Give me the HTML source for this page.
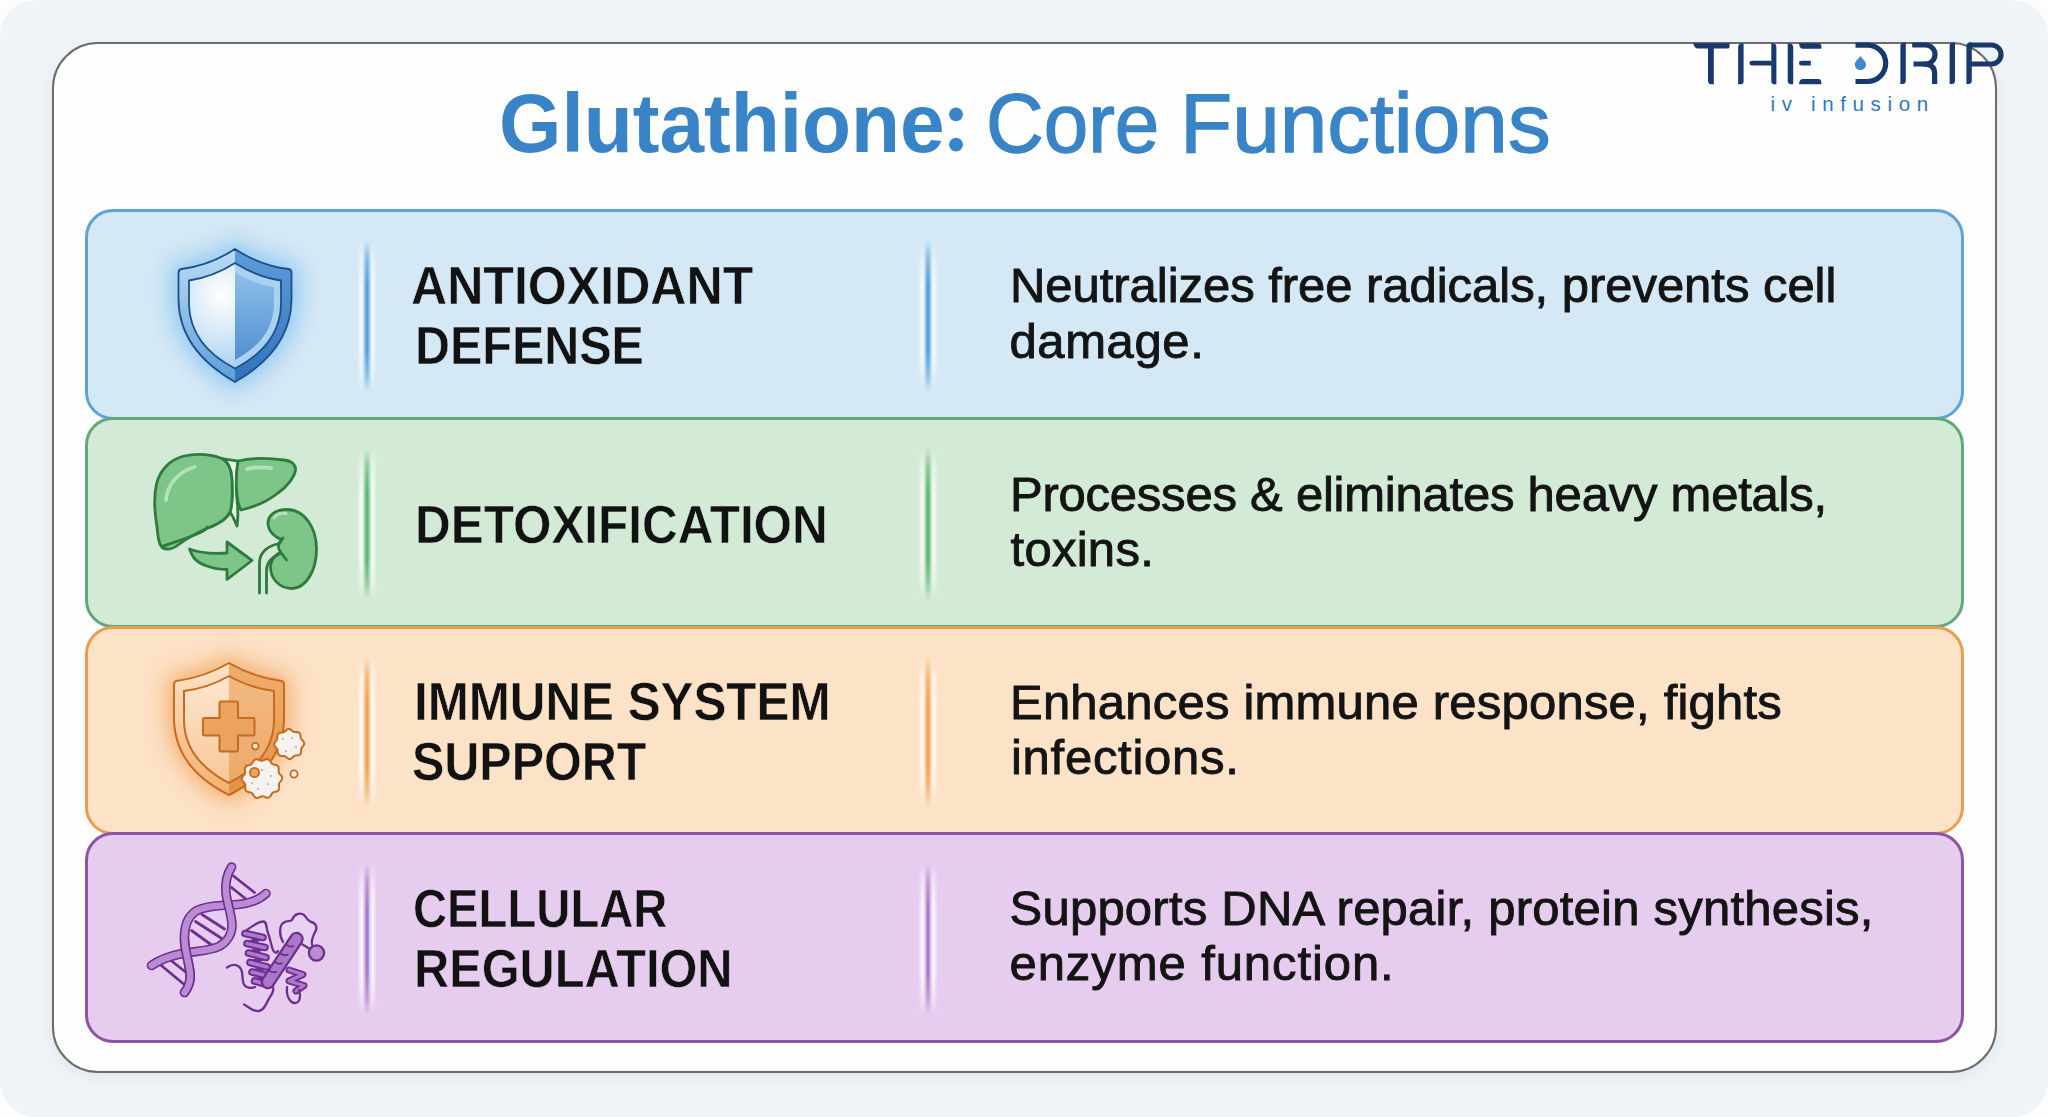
<!DOCTYPE html>
<html><head><meta charset="utf-8"><title>Glutathione: Core Functions</title>
<style>
*{box-sizing:border-box;margin:0;padding:0}
html,body{width:2048px;height:1117px;overflow:hidden;background:#fdfdfd;font-family:"Liberation Sans",sans-serif}
.abs{position:absolute}
.bg{position:absolute;left:0;top:0;width:2048px;height:1117px;border-radius:36px;background:#eff4f8}
.card{position:absolute;left:52px;top:42.4px;width:1945px;height:1031px;border:2.4px solid #6c6c6c;border-radius:46px;background:#fefefe;box-shadow:0 4px 14px rgba(120,140,160,.12)}
.t{position:absolute;top:81.5px;font-size:83px;line-height:83px;color:#3884c6;white-space:nowrap;transform-origin:0 0}
.tl{-webkit-text-stroke:1.3px #3884c6}
.row{position:absolute;left:85px;width:1879px;border:3px solid;border-radius:28px}
.r1{top:208.5px;height:211.5px;background:#d5e8f5;border-color:#5ca3db}
.r2{top:416.7px;height:211.8px;background:#d3ebd6;border-color:#60a977}
.r3{top:625.5px;height:209.5px;background:#fce2c7;border-color:#e89d50}
.r4{top:832px;height:210.5px;background:#e6cdf0;border-color:#8f53a6}
.h{position:absolute;transform-origin:0 0;font-weight:bold;font-size:53px;line-height:53px;color:#121212;white-space:nowrap}
.d{position:absolute;font-size:49px;line-height:49px;color:#141414;white-space:nowrap;-webkit-text-stroke:0.9px #141414}
.dv{position:absolute;width:20px;height:152px;background:linear-gradient(to right,rgba(255,255,255,0) 0%,rgba(255,255,255,.9) 24%,var(--l) 38%,var(--c) 45%,var(--c) 55%,var(--l) 62%,rgba(255,255,255,.9) 76%,rgba(255,255,255,0) 100%);-webkit-mask-image:linear-gradient(to bottom,transparent 0%,rgba(0,0,0,.6) 12%,#000 30%,#000 72%,rgba(0,0,0,.6) 88%,transparent 100%)}
.iv{position:absolute;left:1770.5px;top:93.5px;font-size:20.5px;line-height:20.5px;letter-spacing:6.65px;color:#2f78bd;white-space:nowrap}
</style></head>
<body>
<div class="bg"></div>
<div class="card"></div>
<div class="t" style="left:498.5px;font-weight:bold;transform:scaleX(0.9666)">Glutathione</div>
<svg class="abs" style="left:0;top:0" width="2048" height="200"><circle cx="956" cy="114.3" r="6.9" fill="#3884c6"/><circle cx="956" cy="144.6" r="6.9" fill="#3884c6"/></svg>
<div class="t tl" style="left:986px;transform:scaleX(0.963)">Core</div>
<div class="t tl" style="left:1180px;transform:scaleX(1.03)">Functions</div>
<div class="row r1"></div>
<div class="row r2"></div>
<div class="row r3"></div>
<div class="row r4"></div>
<!--TEXT-->
<div class="h" style="left:410.5px;top:259.2px;transform:scaleX(0.9450);-webkit-text-stroke:0.5px #d5e8f5">ANTIOXIDANT</div>
<div class="h" style="left:414.7px;top:318.5px;transform:scaleX(0.9143);-webkit-text-stroke:0.5px #d5e8f5">DEFENSE</div>
<div class="h" style="left:414.7px;top:497.7px;transform:scaleX(0.9324);-webkit-text-stroke:0.5px #d3ebd6">DETOXIFICATION</div>
<div class="h" style="left:413.7px;top:675.0px;transform:scaleX(0.9305);-webkit-text-stroke:0.5px #fce2c7">IMMUNE SYSTEM</div>
<div class="h" style="left:412.1px;top:734.5px;transform:scaleX(0.9150);-webkit-text-stroke:0.5px #fce2c7">SUPPORT</div>
<div class="h" style="left:412.5px;top:882.3px;transform:scaleX(0.8911);-webkit-text-stroke:0.5px #e6cdf0">CELLULAR</div>
<div class="h" style="left:414.2px;top:941.7px;transform:scaleX(0.9195);-webkit-text-stroke:0.5px #e6cdf0">REGULATION</div>
<div class="d" style="left:1010.0px;top:261.1px;letter-spacing:-0.04px">Neutralizes free radicals, prevents cell</div>
<div class="d" style="left:1009.5px;top:317.0px;letter-spacing:0.60px">damage.</div>
<div class="d" style="left:1010.0px;top:469.6px;letter-spacing:-0.23px">Processes &amp; eliminates heavy metals,</div>
<div class="d" style="left:1010.5px;top:525.4px;letter-spacing:0.28px">toxins.</div>
<div class="d" style="left:1010.0px;top:677.7px;letter-spacing:0.21px">Enhances immune response, fights</div>
<div class="d" style="left:1011.0px;top:733.2px;letter-spacing:0.72px">infections.</div>
<div class="d" style="left:1009.5px;top:883.5px;letter-spacing:0.23px">Supports DNA repair, protein synthesis,</div>
<div class="d" style="left:1009.5px;top:939.3px;letter-spacing:0.92px">enzyme function.</div>
<!--/TEXT-->
<!--ICONS-->
<div class="dv" style="left:356.5px;top:240px;--c:#5aa0d8;--l:#9ccbee"></div>
<div class="dv" style="left:917.8px;top:240px;--c:#5aa0d8;--l:#9ccbee"></div>
<div class="dv" style="left:356.5px;top:448px;--c:#62b377;--l:#a5d8b0"></div>
<div class="dv" style="left:917.8px;top:448px;--c:#62b377;--l:#a5d8b0"></div>
<div class="dv" style="left:356.5px;top:656px;--c:#f0a458;--l:#f8cc9e"></div>
<div class="dv" style="left:917.8px;top:656px;--c:#f0a458;--l:#f8cc9e"></div>
<div class="dv" style="left:356.5px;top:863px;--c:#a97bc6;--l:#d8bfe8"></div>
<div class="dv" style="left:917.8px;top:863px;--c:#a97bc6;--l:#d8bfe8"></div>
<div class="iv">iv infusion</div>
<svg class="abs" style="left:0;top:0" width="2048" height="1117" viewBox="0 0 2048 1117">
<defs>
<filter id="blur8" x="-50%" y="-50%" width="200%" height="200%"><feGaussianBlur stdDeviation="10"/></filter>
<filter id="blur2" x="-50%" y="-50%" width="200%" height="200%"><feGaussianBlur stdDeviation="1.6"/></filter>
<linearGradient id="sOutL" x1="0" y1="0" x2="0" y2="1"><stop offset="0" stop-color="#bcdcf4"/><stop offset="1" stop-color="#5c9fd9"/></linearGradient>
<linearGradient id="sOutR" x1="0" y1="0" x2="0" y2="1"><stop offset="0" stop-color="#5d9dd8"/><stop offset="1" stop-color="#3272ba"/></linearGradient>
<radialGradient id="sInL" cx="0.35" cy="0.3" r="0.8"><stop offset="0" stop-color="#ffffff"/><stop offset="0.5" stop-color="#d2e8f8"/><stop offset="1" stop-color="#9ccaee"/></radialGradient>
<linearGradient id="sInR" x1="0" y1="0" x2="0" y2="1"><stop offset="0" stop-color="#8fc0ea"/><stop offset="1" stop-color="#5090d0"/></linearGradient>
<linearGradient id="oOutL" x1="0" y1="0" x2="0" y2="1"><stop offset="0" stop-color="#fde3c8"/><stop offset="1" stop-color="#f3b06c"/></linearGradient>
<linearGradient id="oOutR" x1="0" y1="0" x2="0" y2="1"><stop offset="0" stop-color="#f0ae6a"/><stop offset="1" stop-color="#e3924a"/></linearGradient>
<linearGradient id="oInL" x1="0" y1="0" x2="0" y2="1"><stop offset="0" stop-color="#fde6cf"/><stop offset="1" stop-color="#f7c898"/></linearGradient>
<linearGradient id="oInR" x1="0" y1="0" x2="0" y2="1"><stop offset="0" stop-color="#f2b97f"/><stop offset="1" stop-color="#ebaa69"/></linearGradient>
</defs>
<g>
<path d="M235,249 Q210,265.5 181.5,269 Q178.5,269.6 178.5,273 L178.5,300 C179,336 200,362 235,382 C270,362 291,336 291.5,300 L291.5,273 Q291.5,269.6 288.5,269 Q260,265.5 235,249 Z" transform="translate(235,316) scale(1.14) translate(-235,-316)" fill="#8fc8f2" opacity="0.95" filter="url(#blur8)"/>
<path d="M235,249 Q210,265.5 181.5,269 Q178.5,269.6 178.5,273 L178.5,300 C179,336 200,362 235,382 C270,362 291,336 291.5,300 L291.5,273 Q291.5,269.6 288.5,269 Q260,265.5 235,249 Z" fill="url(#sOutL)"/>
<path d="M235,249 Q260,265.5 288.5,269 Q291.5,269.6 291.5,273 L291.5,300 C291,336 270,362 235,382 Z" fill="url(#sOutR)"/>
<path d="M235,249 Q210,265.5 181.5,269 Q178.5,269.6 178.5,273 L178.5,300 C179,336 200,362 235,382 C270,362 291,336 291.5,300 L291.5,273 Q291.5,269.6 288.5,269 Q260,265.5 235,249 Z" fill="none" stroke="#1d4f8e" stroke-width="1.8"/>
<path d="M235,263 Q213,277 189,280.5 L189,305 C190,334 207,354 235,368.5 C263,354 280,334 281,305 L281,280.5 Q257,277 235,263 Z" fill="url(#sInL)"/>
<path d="M235,263 Q257,277 281,280.5 L281,305 C280,334 263,354 235,368.5 Z" fill="#a9d1f1"/>
<path d="M235,272 Q254,284 274,287 L274,305 C273,330 259,347 235,360 Z" fill="url(#sInR)"/>
<path d="M235,263 Q213,277 189,280.5 L189,305 C190,334 207,354 235,368.5 C263,354 280,334 281,305 L281,280.5 Q257,277 235,263 Z" fill="none" stroke="#1d4f8e" stroke-width="1.8"/>
</g>
<g stroke="#2e7b3c" stroke-width="2.8" stroke-linejoin="round" stroke-linecap="round">
<path d="M222,458.5 C226,459.5 233,460 238,461 C236,475 236,490 237.5,505 C238,512 238,520 237,526 C235,522 233,516 230,512 C233,503 232.5,490 231.8,478 C231.2,469 228,462 222,458.5 Z" fill="#e3f3e6"/>
<path d="M222,458.5 C210,454 196,453.5 184,456 C170,459.5 160,470 156.5,484 C153.5,497 154.5,512 157,527 C158,537 158.5,543 162,547.5 C166,550 172,549.5 178,545 C186,539 196,533 208,528 C218,524 226,520 230,512 C233,503 232.5,490 231.8,478 C231.2,469 228,462 222,458.5 Z" fill="#7ec58a"/>
<path d="M238,461 C250,458 268,458 284,460 C292,461 296,465 295.5,470 C294.5,477 287,487 278,493 C268,501 255,507 241,510 C238,505 237,498 236.5,490 C236,480 236.5,470 238,461 Z" fill="#7ec58a"/>
<path d="M163,546 C175,542 188,538 197,534 C203,531 206,530 207.5,527" fill="none"/>
<path d="M166,500 C167,485 178,472 194.5,467" fill="none" stroke="#b3e1bb" stroke-width="3.8"/>
<path d="M247,469 C255,467 264,467 271,468" fill="none" stroke="#b3e1bb" stroke-width="3.8"/>
<path d="M189.5,549 C200,553 214,554 227,553 L227,542 L252,560.5 L227,579.5 L227,569.5 C212,569.5 199,564 194,558 C192,555 190.5,552 189.5,549 Z" fill="#7ec58a"/>
<path d="M287,509.5 C304,509.5 316.5,527 316.5,549 C316.5,572 305,588.5 292,588.5 C279,588.5 270.5,578 270.5,567 C270.5,559 276,555 280.5,552 C277.5,548 277.5,543 282,539.5 C276,538 268,532 268,523 C268,514.5 276,509.5 287,509.5 Z" fill="#7ec58a"/>
<path d="M274,518 C277,514 282,513 286,513.5" fill="none" stroke="#b3e1bb" stroke-width="3"/>
<path d="M283,538 L278.5,545" fill="none"/><path d="M280.5,552 L286.5,560" fill="none"/>
<path d="M277.5,544 C268,546 260,552 259.5,562 L259.5,593" fill="none"/>
<path d="M279.5,554 C272,557 266.5,563 266.5,571 L266.5,593" fill="none"/>
</g>
<path d="M229,663 Q205,677 176.5,681 Q174,681.5 174,684.5 L174,720 C175,753 195,778 229,795 C263,778 283,753 284,720 L284,684.5 Q284,681.5 281.5,681 Q253,677 229,663 Z" transform="translate(229,729) scale(1.12) translate(-229,-729)" fill="#f4a660" opacity="0.85" filter="url(#blur8)"/>
<path d="M229,663 Q205,677 176.5,681 Q174,681.5 174,684.5 L174,720 C175,753 195,778 229,795 C263,778 283,753 284,720 L284,684.5 Q284,681.5 281.5,681 Q253,677 229,663 Z" fill="url(#oOutL)"/>
<path d="M229,663 Q253,677 281.5,681 Q284,681.5 284,684.5 L284,720 C283,753 263,778 229,795 Z" fill="url(#oOutR)"/>
<path d="M229,663 Q205,677 176.5,681 Q174,681.5 174,684.5 L174,720 C175,753 195,778 229,795 C263,778 283,753 284,720 L284,684.5 Q284,681.5 281.5,681 Q253,677 229,663 Z" fill="none" stroke="#c66b20" stroke-width="2"/>
<path d="M229,676 Q208,688 184,691 L184,722 C185,749 202,769 229,783 C256,769 273,749 274,722 L274,691 Q250,688 229,676 Z" fill="url(#oInL)"/>
<path d="M229,676 Q250,688 274,691 L274,722 C273,749 256,769 229,783 Z" fill="url(#oInR)"/>
<path d="M229,676 Q208,688 184,691 L184,722 C185,749 202,769 229,783 C256,769 273,749 274,722 L274,691 Q250,688 229,676 Z" fill="none" stroke="#c66b20" stroke-width="2"/>
<path d="M221,701.5 H237 Q238,701.5 238,703 V718 H253 Q254.5,718 254.5,719.5 V734 Q254.5,735.5 253,735.5 H238 V750 Q238,751.5 237,751.5 H221 Q219.5,751.5 219.5,750 V735.5 H204.5 Q203,735.5 203,734 V719.5 Q203,718 204.5,718 H219.5 V703 Q219.5,701.5 221,701.5 Z" fill="#eba35d" stroke="#c66b20" stroke-width="2" stroke-linejoin="round"/>
<path d="M304.16,744.00 L303.93,744.77 L303.54,745.51 L303.04,746.19 L302.51,746.83 L302.01,747.43 L301.61,748.03 L301.34,748.66 L301.19,749.34 L301.14,750.08 L301.13,750.89 L301.10,751.73 L300.99,752.57 L300.75,753.35 L300.34,754.03 L299.78,754.58 L299.07,754.96 L298.27,755.21 L297.44,755.34 L296.61,755.41 L295.83,755.49 L295.13,755.63 L294.49,755.88 L293.90,756.26 L293.34,756.74 L292.77,757.31 L292.15,757.88 L291.48,758.40 L290.75,758.78 L289.98,758.97 L289.20,758.96 L288.43,758.73 L287.69,758.34 L287.01,757.84 L286.37,757.31 L285.77,756.81 L285.17,756.41 L284.54,756.14 L283.86,755.99 L283.12,755.94 L282.31,755.93 L281.47,755.90 L280.63,755.79 L279.85,755.55 L279.17,755.14 L278.62,754.58 L278.24,753.87 L277.99,753.07 L277.86,752.24 L277.79,751.41 L277.71,750.63 L277.57,749.93 L277.32,749.29 L276.94,748.70 L276.46,748.14 L275.89,747.57 L275.32,746.95 L274.80,746.28 L274.42,745.55 L274.23,744.78 L274.24,744.00 L274.47,743.23 L274.86,742.49 L275.36,741.81 L275.89,741.17 L276.39,740.57 L276.79,739.97 L277.06,739.34 L277.21,738.66 L277.26,737.92 L277.27,737.11 L277.30,736.27 L277.41,735.43 L277.65,734.65 L278.06,733.97 L278.62,733.42 L279.33,733.04 L280.13,732.79 L280.96,732.66 L281.79,732.59 L282.57,732.51 L283.27,732.37 L283.91,732.12 L284.50,731.74 L285.06,731.26 L285.63,730.69 L286.25,730.12 L286.92,729.60 L287.65,729.22 L288.42,729.03 L289.20,729.04 L289.97,729.27 L290.71,729.66 L291.39,730.16 L292.03,730.69 L292.63,731.19 L293.23,731.59 L293.86,731.86 L294.54,732.01 L295.28,732.06 L296.09,732.07 L296.93,732.10 L297.77,732.21 L298.55,732.45 L299.23,732.86 L299.78,733.42 L300.16,734.13 L300.41,734.93 L300.54,735.76 L300.61,736.59 L300.69,737.37 L300.83,738.07 L301.08,738.71 L301.46,739.30 L301.94,739.86 L302.51,740.43 L303.08,741.05 L303.60,741.72 L303.98,742.45 L304.17,743.22 Z" fill="#f6f2ef" stroke="#c66b20" stroke-width="2" stroke-linejoin="round"/>
<path d="M282.18,778.50 L281.87,779.54 L281.28,780.53 L280.53,781.43 L279.81,782.29 L279.25,783.12 L278.95,784.01 L278.90,784.99 L279.01,786.07 L279.14,787.23 L279.14,788.40 L278.89,789.47 L278.32,790.36 L277.46,791.02 L276.40,791.47 L275.27,791.77 L274.18,792.03 L273.24,792.38 L272.48,792.92 L271.86,793.68 L271.31,794.62 L270.73,795.64 L270.05,796.58 L269.22,797.30 L268.23,797.69 L267.15,797.72 L266.03,797.46 L264.93,797.03 L263.90,796.61 L262.93,796.34 L262.00,796.32 L261.05,796.58 L260.05,797.02 L258.99,797.50 L257.88,797.86 L256.79,797.95 L255.77,797.69 L254.87,797.08 L254.12,796.21 L253.48,795.22 L252.90,794.27 L252.27,793.48 L251.52,792.92 L250.61,792.57 L249.54,792.34 L248.40,792.10 L247.29,791.75 L246.35,791.17 L245.68,790.36 L245.31,789.34 L245.22,788.19 L245.28,787.02 L245.37,785.90 L245.32,784.90 L245.05,784.01 L244.52,783.18 L243.79,782.37 L243.00,781.51 L242.31,780.57 L241.89,779.55 L241.82,778.50 L242.13,777.46 L242.72,776.47 L243.47,775.57 L244.19,774.71 L244.75,773.88 L245.05,772.99 L245.10,772.01 L244.99,770.93 L244.86,769.77 L244.86,768.60 L245.11,767.53 L245.68,766.64 L246.54,765.98 L247.60,765.53 L248.73,765.23 L249.82,764.97 L250.76,764.62 L251.52,764.08 L252.14,763.32 L252.69,762.38 L253.27,761.36 L253.95,760.42 L254.78,759.70 L255.77,759.31 L256.85,759.28 L257.97,759.54 L259.07,759.97 L260.10,760.39 L261.07,760.66 L262.00,760.68 L262.95,760.42 L263.95,759.98 L265.01,759.50 L266.12,759.14 L267.21,759.05 L268.23,759.31 L269.13,759.92 L269.88,760.79 L270.52,761.78 L271.10,762.73 L271.73,763.52 L272.48,764.08 L273.39,764.43 L274.46,764.66 L275.60,764.90 L276.71,765.25 L277.65,765.83 L278.32,766.64 L278.69,767.66 L278.78,768.81 L278.72,769.98 L278.63,771.10 L278.68,772.10 L278.95,772.99 L279.48,773.82 L280.21,774.63 L281.00,775.49 L281.69,776.43 L282.11,777.45 Z" fill="#f6f2ef" stroke="#c66b20" stroke-width="2" stroke-linejoin="round"/>
<circle cx="254.5" cy="772.5" r="4.6" fill="#eba35d" stroke="#c66b20" stroke-width="1.8"/>
<circle cx="255.3" cy="746.2" r="3.3" fill="#fbeee2" stroke="#c66b20" stroke-width="1.8"/>
<circle cx="294" cy="774" r="3.6" fill="#fbeee2" stroke="#c66b20" stroke-width="1.8"/>
<circle cx="283" cy="739" r="1" fill="#b0a9b8"/>
<circle cx="292" cy="738" r="1" fill="#b0a9b8"/>
<circle cx="296" cy="747" r="1" fill="#b0a9b8"/>
<circle cx="286" cy="751" r="1" fill="#b0a9b8"/>
<circle cx="262" cy="770" r="1" fill="#b0a9b8"/>
<circle cx="268" cy="784" r="1" fill="#b0a9b8"/>
<circle cx="258" cy="789" r="1" fill="#b0a9b8"/>
<circle cx="271" cy="776" r="1" fill="#b0a9b8"/>
<circle cx="252" cy="783" r="1" fill="#b0a9b8"/>
<g stroke-linecap="round" fill="none">
<line x1="233.5" y1="876.0" x2="254.5" y2="892.5" stroke="#6e2f8f" stroke-width="2.8"/>
<line x1="231.5" y1="887.5" x2="246.5" y2="899.5" stroke="#6e2f8f" stroke-width="2.8"/>
<line x1="202.0" y1="914.5" x2="224.5" y2="929.0" stroke="#6e2f8f" stroke-width="2.8"/>
<line x1="195.5" y1="921.5" x2="221.0" y2="938.0" stroke="#6e2f8f" stroke-width="2.8"/>
<line x1="191.5" y1="930.5" x2="213.0" y2="946.0" stroke="#6e2f8f" stroke-width="2.8"/>
<line x1="159.5" y1="964.0" x2="183.0" y2="983.5" stroke="#6e2f8f" stroke-width="2.8"/>
<line x1="171.0" y1="960.5" x2="185.5" y2="972.0" stroke="#6e2f8f" stroke-width="2.8"/>
<clipPath id="lowc"><rect x="170" y="940" width="30" height="60"/></clipPath>
<path d="M266,893.5 C259,900 250,903.5 238,904.5 C224,905.5 207,905 196,911 C187,917 184,928 184.5,940 C185,952 189,962 190,973 C191,982 188,988 184.5,992.5" stroke="#6e2f8f" stroke-width="9.6"/>
<path d="M266,893.5 C259,900 250,903.5 238,904.5 C224,905.5 207,905 196,911 C187,917 184,928 184.5,940 C185,952 189,962 190,973 C191,982 188,988 184.5,992.5" stroke="#bb8bd4" stroke-width="6.4"/>
<path d="M231.6,867 C227,874 225,882 226,893 C227,903 231,912 232,924 C232.5,934 227,942 219,946.5 C208,951.5 194,951 180,954 C168,956.5 158,961 151.5,965.5" stroke="#6e2f8f" stroke-width="9.6"/>
<path d="M231.6,867 C227,874 225,882 226,893 C227,903 231,912 232,924 C232.5,934 227,942 219,946.5 C208,951.5 194,951 180,954 C168,956.5 158,961 151.5,965.5" stroke="#bb8bd4" stroke-width="6.4"/>
<path d="M266,893.5 C259,900 250,903.5 238,904.5 C224,905.5 207,905 196,911 C187,917 184,928 184.5,940 C185,952 189,962 190,973 C191,982 188,988 184.5,992.5" stroke="#6e2f8f" stroke-width="9.6" clip-path="url(#lowc)"/>
<path d="M266,893.5 C259,900 250,903.5 238,904.5 C224,905.5 207,905 196,911 C187,917 184,928 184.5,940 C185,952 189,962 190,973 C191,982 188,988 184.5,992.5" stroke="#bb8bd4" stroke-width="6.4" clip-path="url(#lowc)"/>
</g>
<g stroke="#6e2f8f" stroke-linecap="round" stroke-linejoin="round" fill="none">
<path d="M227,967.5 C233,963 240,964 242,972 C243,980 242,986 248,987.5 C251,988 253,988 255,987" stroke-width="2.3"/>
<path d="M244,1004.5 C249,1007 253,1012 259,1011 C265,1010 266,1003 270,997 C273,993 274,990 273,987" stroke-width="2.3"/>
<path d="M245,931.5 C251,927 257,922 263,921.5 C267,921 266,928 268,933 C270,938 271,945 273,950 C275,954 277,953 278,951" stroke-width="2.3"/>
<path d="M283,942 C279,935 279,925 284,922.5 C287,920 290,922 292,920 C294,914 300,912 304,915 C306,917 307,920 311,922 C316,923 318,928 315,932 C313,936 311,940 312,944 C313,947 313,949 311,951" fill="#e8d2f1" stroke-width="2.3"/>
<path d="M300,943 L310,949" stroke-width="2.3"/>
<circle cx="316.5" cy="953" r="7.6" fill="#bb8bd4" stroke-width="2.3"/>
<path d="M263,937.5 L247,943.5 M265,947.5 L248.5,953 M266,957.5 L250,962.5 M267,967 L252,972 M268,976 L254.5,981" stroke-width="4.5"/>
<path d="M245.0,933.5 L263.0,937.5" stroke-width="7.6"/>
<path d="M245.0,933.5 L263.0,937.5" stroke="#ad7acb" stroke-width="3.6"/>
<path d="M247.0,943.5 L265.0,947.5" stroke-width="7.6"/>
<path d="M247.0,943.5 L265.0,947.5" stroke="#ad7acb" stroke-width="3.6"/>
<path d="M248.5,953.0 L266.0,957.5" stroke-width="7.6"/>
<path d="M248.5,953.0 L266.0,957.5" stroke="#ad7acb" stroke-width="3.6"/>
<path d="M250.0,962.5 L267.0,967.0" stroke-width="7.6"/>
<path d="M250.0,962.5 L267.0,967.0" stroke="#ad7acb" stroke-width="3.6"/>
<path d="M252.0,972.0 L268.0,976.0" stroke-width="7.6"/>
<path d="M252.0,972.0 L268.0,976.0" stroke="#ad7acb" stroke-width="3.6"/>
<path d="M254.5,981.0 L269.0,985.0" stroke-width="7.6"/>
<path d="M254.5,981.0 L269.0,985.0" stroke="#ad7acb" stroke-width="3.6"/>
<path d="M268,982 L296.5,939" stroke-width="14.5"/>
<path d="M268,982 L296.5,939" stroke="#ab77c8" stroke-width="10"/>
<path d="M268.7,970.4 q4,3 7.5,1.5" stroke-width="1.8"/>
<path d="M274.4,961.8 q4,3 7.5,1.5" stroke-width="1.8"/>
<path d="M280.1,953.2 q4,3 7.5,1.5" stroke-width="1.8"/>
<path d="M285.8,944.6 q4,3 7.5,1.5" stroke-width="1.8"/>
<path d="M289,970 L303,974.5 L289,981 L304,985.5 L296,991" stroke-width="7"/>
<path d="M289,970 L303,974.5 L289,981 L304,985.5 L296,991" stroke="#ad7acb" stroke-width="3.2"/>
<path d="M287,987 C286,996 290,1003 295,1003 C300,1003 301,996 299,990" stroke-width="2.3"/>
</g>
<g fill="#18396d">
<path d="M1693.2,43.2 H1729.5 V47 Q1729.5,48.6 1727.5,48.6 H1698 Q1694.5,48.6 1693.2,43.2 Z"/>
<path d="M1708,48 H1713.8 V84.2 H1711 Q1708,84.2 1708,80.5 Z"/>
<path d="M1741.60,43.60 H1743.60 Q1743.60,43.60 1743.60,43.60 V81.20 Q1743.60,84.20 1740.60,84.20 H1738.10 Q1738.10,84.20 1738.10,84.20 V47.10 Q1738.10,43.60 1741.60,43.60 Z"/>
<path d="M1752.5,60.8 H1771.7 V65.5 H1752.5 Q1749.5,65.5 1749.5,63 Q1749.5,60.8 1752.5,60.8 Z"/>
<path d="M1771.3,43.6 H1773 Q1776.4,43.6 1776.4,47.5 V84.2 H1774 Q1771.3,84.2 1771.3,81 Z"/>
<path d="M1787.7,43.6 H1789.5 Q1793.2,43.6 1793.2,47.5 V84.2 H1791 Q1787.7,84.2 1787.7,80.5 Z"/>
<path d="M1799,43.2 H1818 Q1821.3,43.2 1821.3,46 V48.7 H1803 Q1799.5,48.7 1799,43.2 Z"/>
<path d="M1802,60.8 H1810.8 V65.5 H1802 Q1799,65.5 1799,63 Q1799,60.8 1802,60.8 Z"/>
<path d="M1803,79.1 H1818 Q1821.3,79.1 1821.3,82 V84.2 H1799 Q1799.5,79.1 1803,79.1 Z"/>
</g>
<g fill="none" stroke="#18396d" stroke-width="5.2">
<path d="M1855.5,45.1 H1867.5 A18.2,18.2 0 0 1 1867.5,81.5 H1855.5"/>
<path d="M1912.2,45 H1925.5 A9.5,9.5 0 0 1 1925.5,64 H1913.5"/>
<path d="M1923,64 Q1934.6,64 1934.6,73 V84"/>
<path d="M1969,45 H1991.5 A9.5,9.5 0 0 1 1991.5,64 H1969"/>
</g>
<g fill="#18396d">
<path d="M1903.90,42.50 H1905.80 Q1905.80,42.50 1905.80,42.50 V80.50 Q1905.80,84.00 1902.30,84.00 H1900.40 Q1900.40,84.00 1900.40,84.00 V46.00 Q1900.40,42.50 1903.90,42.50 Z"/>
<path d="M1953.10,42.50 H1955.00 Q1955.00,42.50 1955.00,42.50 V80.50 Q1955.00,84.00 1951.50,84.00 H1949.60 Q1949.60,84.00 1949.60,84.00 V46.00 Q1949.60,42.50 1953.10,42.50 Z"/>
<path d="M1969.90,42.50 H1971.80 Q1971.80,42.50 1971.80,42.50 V80.50 Q1971.80,84.00 1968.30,84.00 H1966.40 Q1966.40,84.00 1966.40,84.00 V46.00 Q1966.40,42.50 1969.90,42.50 Z"/>
</g>
<path d="M1860.4,56 C1862.5,59 1866,61.5 1866,64.5 A5.6,5.6 0 0 1 1854.8,64.5 C1854.8,61.5 1858.3,59 1860.4,56 Z" fill="#3d88c9"/>
</svg>

<!--/ICONS-->
</body></html>
